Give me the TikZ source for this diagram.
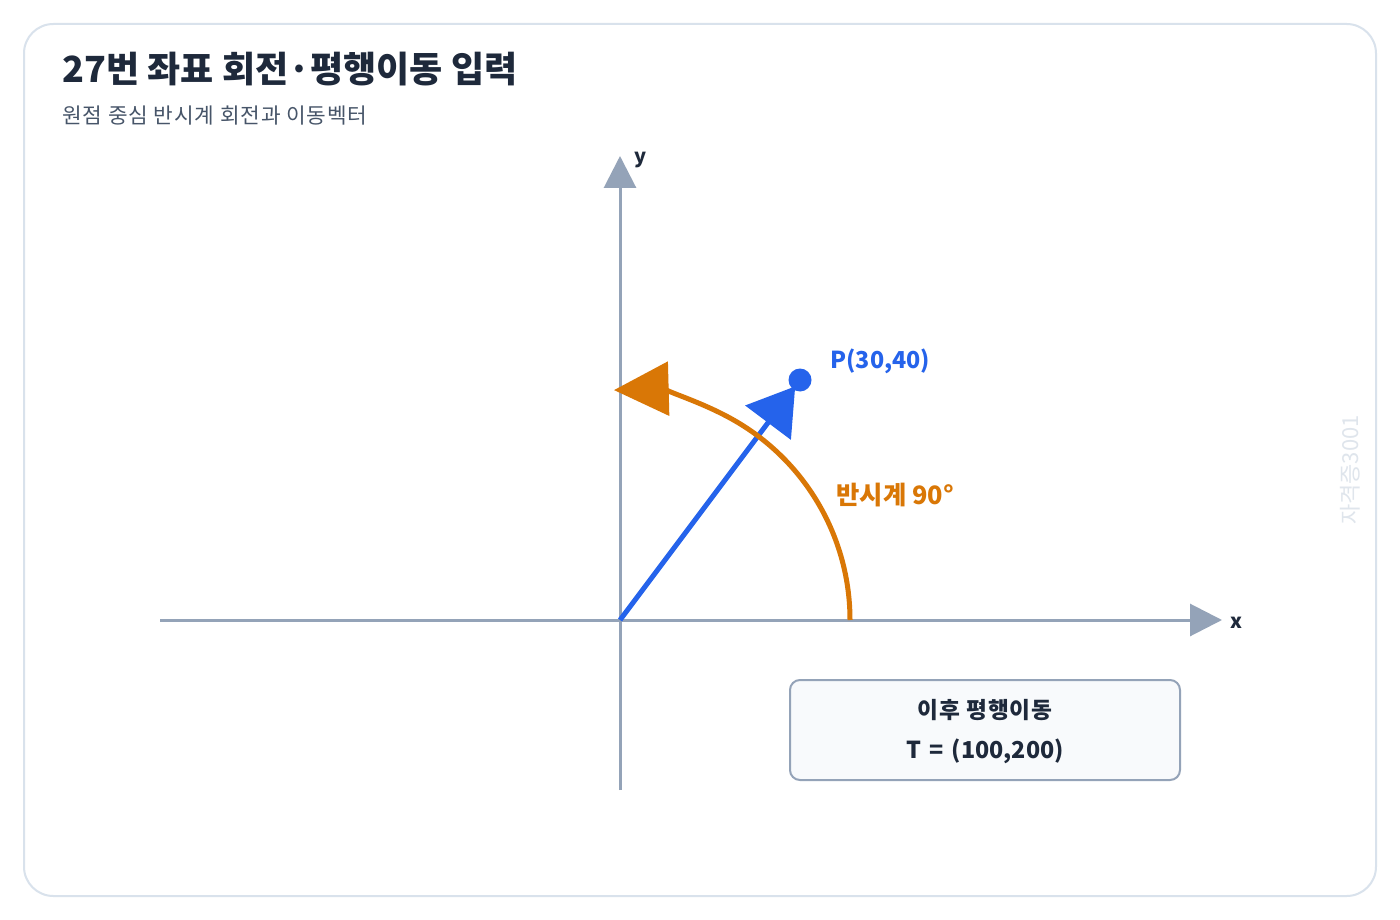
\documentclass[tikz,border=0pt]{standalone}
\usepackage{fontspec}
\setmainfont{Noto Sans CJK KR}
\newfontfamily\spacedfont[LetterSpace=4]{Noto Sans CJK KR}
\usetikzlibrary{arrows.meta}

\definecolor{inkdark}{HTML}{1E293B}
\definecolor{inksub}{HTML}{475569}
\definecolor{axisgrey}{HTML}{94A3B8}
\definecolor{vecblue}{HTML}{2563EB}
\definecolor{rotorange}{HTML}{D97706}
\definecolor{framegrey}{HTML}{D9E2EC}
\definecolor{boxfill}{HTML}{F8FAFC}
\definecolor{markgrey}{HTML}{DFE5EC}

\tikzset{every picture/.style={line width=0.75pt}}

\begin{document}
\begin{tikzpicture}[x=0.75pt,y=0.75pt,yscale=-1,xscale=1,
  axisline/.style={draw=axisgrey, line width=2.25, -{Triangle[length=24pt,width=24pt]}},
  axislabel/.style={inner sep=0, text=inkdark, font=\fontsize{15}{18}\selectfont\bfseries},
  infobox/.style={draw=axisgrey, fill=boxfill, line width=1.5, rounded corners=7.5pt, minimum width=292.5pt, minimum height=75pt}]
%set diagram left start at 0, and has height of 920
\useasboundingbox (0,0) rectangle (1400,920);
\fill [white] (0,0) rectangle (1400,920);

%Rounded Rect [id:frame]
\draw [color=framegrey, line width=1.5, rounded corners=22pt] (24,24) rectangle (1376,896);

%Title
\node (title) [anchor=west, inner sep=0, text=inkdark, font=\fontsize{27}{31}\selectfont\bfseries] at (62,69) {27번 좌표 회전·평행이동 입력};
\node (subtitle) [anchor=west, inner sep=0, text=inksub, font=\fontsize{16}{19}\spacedfont] at (62,116) {원점 중심 반시계 회전과 이동벡터};

%Axes
\coordinate (O) at (620,620);
\coordinate (xstart) at (160,620);
\coordinate (xend) at (1222,620);
\coordinate (ystart) at (620,790);
\coordinate (yend) at (620,156);
\draw [axisline] (xstart) -- (xend);
\draw [axisline] (ystart) -- (yend);
\node (xlabel) [axislabel] at (1236,623) {x};
\node (ylabel) [axislabel] at (641,160) {y};

%Vector to P
\node (P) [circle, fill=vecblue, inner sep=0, minimum size=17.25pt] at (800,380) {};
\draw [color=vecblue, line width=3.75, shorten >=-3pt, -{Triangle[length=34pt,width=42pt]}] (O) -- (P);
\node (Plabel) [anchor=west, inner sep=0, text=vecblue, font=\fontsize{17.5}{21}\selectfont\bfseries] at (830,361) {P(30,40)};

%Curve Lines [id:rotation]
\coordinate (arcstart) at (850,620);
\draw [color=rotorange, line width=3.75, -{Triangle[length=41pt,width=40pt]}] (arcstart) arc [start angle=0, end angle=-91.5, radius=230];
\node (rotlabel) [anchor=west, inner sep=0, text=rotorange, font=\fontsize{19}{22}\selectfont\bfseries] at (836,495) {반시계 90°};

%Shape: Rectangle [id:translation]
\node (tbox) [infobox] at (985,730) {};
\node (tline1) [inner sep=0, text=inkdark, font=\fontsize{17}{20}\spacedfont\bfseries] at (985,710) {이후 평행이동};
\node (tline2) [inner sep=0, text=inkdark, font=\fontsize{17.5}{20}\selectfont\bfseries] at (985,751) {T\hspace{0.35em}=\hspace{0.35em}(100,200)};

%Watermark
\node (mark) [rotate=90, inner sep=0, text=markgrey, font=\fontsize{16.5}{19}\selectfont] at (1350,470) {자격증3001};

\end{tikzpicture}
\end{document}
